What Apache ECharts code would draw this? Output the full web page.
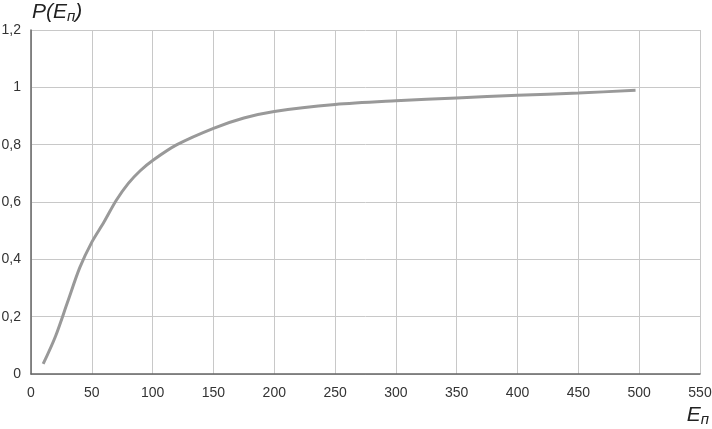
<!DOCTYPE html>
<html>
<head>
<meta charset="utf-8">
<script src="https://cdn.jsdelivr.net/npm/echarts@6/dist/echarts.min.js"></script>
<style>
  html, body { margin: 0; padding: 0; background: #fff; }
  #chart { width: 712px; height: 429px; }
</style>
</head>
<body>
<div id="chart"></div>
<script>
// значения
const energy = [10, 20, 30, 40, 50, 60, 70, 80, 90, 100, 120, 150, 175, 200, 250, 300, 350, 400, 450, 497];
const prob = [0.035, 0.13, 0.25, 0.37, 0.46, 0.53, 0.605, 0.665, 0.71, 0.745, 0.8, 0.857, 0.893, 0.916, 0.94, 0.953, 0.963, 0.972, 0.98, 0.99];

const fmt = v => String(Math.round(v * 10) / 10).replace(".", ",");

const chart = echarts.init(document.getElementById("chart"));

const option = {
  animation: false,
  grid: { left: 31, right: 12, top: 30, bottom: 55, outerBoundsMode: "none" },
  xAxis: {
    type: "value",
    min: 0,
    max: 550,
    interval: 50,
    axisLine: { lineStyle: { color: "#666", width: 1.5 } },
    axisTick: { show: false },
    axisLabel: { color: "#333", fontSize: 14, fontFamily: "Liberation Sans, Arial", margin: 12 },
    splitLine: { lineStyle: { color: "#c8c8c8" } }
  },
  yAxis: {
    type: "value",
    min: 0,
    max: 1.2,
    interval: 0.2,
    axisLine: { show: true, lineStyle: { color: "#666", width: 1.5 } },
    axisTick: { show: false },
    axisLabel: {
      color: "#333",
      fontSize: 14,
      fontFamily: "Liberation Sans, Arial",
      margin: 10,
      formatter: fmt
    },
    splitLine: { lineStyle: { color: "#c8c8c8" } }
  },
  graphic: [
    {
      type: "text",
      left: 32,
      top: 2,
      style: {
        text: "{a|P(E}{b|п}{a|)}",
        rich: {
          a: { fontSize: 21, fontStyle: "italic", fontFamily: "Liberation Sans, Arial", fill: "#222" },
          b: { fontSize: 15, fontStyle: "italic", fontFamily: "Liberation Sans, Arial", fill: "#222", padding: [8, 0, 0, 0] }
        }
      }
    },
    {
      type: "text",
      right: 3,
      bottom: 2,
      style: {
        text: "{a|E}{b|п}",
        rich: {
          a: { fontSize: 21, fontStyle: "italic", fontFamily: "Liberation Sans, Arial", fill: "#222" },
          b: { fontSize: 15, fontStyle: "italic", fontFamily: "Liberation Sans, Arial", fill: "#222", padding: [8, 0, 0, 0] }
        }
      }
    }
  ],
  series: [
    {
      type: "line",
      smooth: 0.3,
      symbol: "none",
      lineStyle: { color: "#999", width: 3 },
      data: energy.map((x, i) => [x, prob[i]])
    }
  ]
};

chart.setOption(option);
</script>
</body>
</html>
